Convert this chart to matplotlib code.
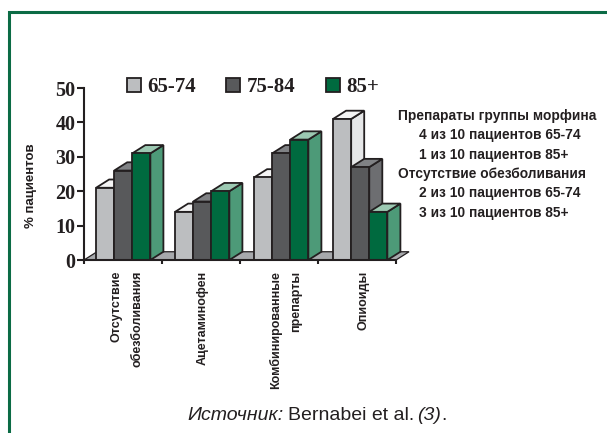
import matplotlib
matplotlib.use("Agg")
import matplotlib.pyplot as plt
from matplotlib.patches import Polygon, Rectangle

W, H = 607, 433

categories = ["Отсутствие\nобезболивания", "Ацетаминофен", "Комбинированные\nпрепарты", "Опиоиды"]
age_groups = ["65-74", "75-84", "85+"]
vals_65 = [21, 14, 24, 41]
vals_75 = [26, 17, 31, 27]
vals_85 = [31, 20, 35, 14]
y_ticks = [0, 10, 20, 30, 40, 50]

note_lines = ["Препараты группы морфина", "4 из 10 пациентов 65-74", "1 из 10 пациентов 85+",
	"Отсутствие обезболивания", "2 из 10 пациентов 65-74", "3 из 10 пациентов 85+"]
note_indent = [0, 1, 1, 0, 1, 1]

green = "#0b6b45"
front = ["#bcbec0", "#58595b", "#006a3f"]
side = ["#e6e7e8", "#6d6e71", "#4d9a78"]
top = ["#f4f4f4", "#808285", "#9cc9b2"]
edge = "#231f20"
sans = ["Liberation Sans", "DejaVu Sans"]

fig = plt.figure(figsize=(W/100, H/100), dpi=100, facecolor="white")

# page layer in pixels, for the frame and legend
bg = fig.add_axes([0, 0, 1, 1])
bg.set_xlim(0, W)
bg.set_ylim(H, 0)
bg.axis("off")
bg.plot([W, 8.5, 8.5], [11.5, 11.5, H], color=green, lw=2.2, solid_joinstyle="miter")

ax = fig.add_axes([84/W, 1-260/H, 312/W, 172/H])
ax.set_xlim(0, 4)
ax.set_ylim(0, 50)
ax.patch.set_alpha(0)

bar_w = 0.232
start = 0.155
group_step = 1.0128
dx = 0.167
dy = 2.4
lw = 1.3

# floor
ax.add_patch(Polygon([[0, 0], [dx, dy], [4+dx, dy], [4, 0]], closed=True, fc="#a7a9ac", ec=edge, lw=0.9, clip_on=False, zorder=1))

series = [vals_65, vals_75, vals_85]
for g in range(len(categories)):
	for s in range(3):
		x = g*group_step + start + s*bar_w
		v = series[s][g]
		z = 3 + g*4 + s
		ax.add_patch(Polygon([[x+bar_w, 0], [x+bar_w+dx, dy], [x+bar_w+dx, v+dy], [x+bar_w, v]], closed=True,
			fc=side[s], ec=edge, lw=lw, zorder=z, clip_on=False))
		ax.add_patch(Polygon([[x, v], [x+dx, v+dy], [x+bar_w+dx, v+dy], [x+bar_w, v]], closed=True,
			fc=top[s], ec=edge, lw=lw, zorder=z, clip_on=False))
		ax.bar(x, v, bar_w, align="edge", color=front[s], edgecolor=edge, linewidth=lw, zorder=z+0.5, clip_on=False)

for sp in ["top", "right"]:
	ax.spines[sp].set_visible(False)
for sp in ["left", "bottom"]:
	ax.spines[sp].set_linewidth(1.5)
	ax.spines[sp].set_color(edge)
	ax.spines[sp].set_zorder(30)

ax.set_yticks(y_ticks)
ax.set_yticklabels([str(t) for t in y_ticks], family="Liberation Serif", weight="bold", fontsize=14.5, color=edge)
ax.set_xticks(range(5))
ax.set_xticklabels([])
ax.tick_params(axis="y", length=5, width=1.5, color=edge, pad=1)
ax.tick_params(axis="x", length=3, width=1.5, color=edge)

bg.text(31, 186, "% пациентов", rotation=90, family=sans, weight="bold", fontsize=9.5, color=edge, ha="center", va="center")

label_x = [127, 203, 286, 364]
for g, lab in enumerate(categories):
	bg.text(label_x[g], 271, lab, rotation=90, ha="center", va="top", multialignment="right", family=sans, weight="bold",
		fontsize=9, color=edge, linespacing=1.9)

# legend
legend_x = [127, 226, 326]
for i, lab in enumerate(age_groups):
	bg.add_patch(Rectangle((legend_x[i], 78), 14, 14, fc=front[i], ec=edge, lw=1.3))
	bg.text(legend_x[i]+20.5, 85, lab, family="Liberation Serif", weight="bold", fontsize=15, color=edge, ha="left", va="center_baseline")

# side note
for i, line in enumerate(note_lines):
	bg.text(398+21*note_indent[i], 116+i*19.3, line, family=sans, weight="bold", fontsize=9.9, color=edge, ha="left", va="center")

# source line, mixed styles
bg.text(187, 415, "Источник:", style="italic", family="Liberation Sans", fontsize=14, color=edge, va="center")
bg.text(288, 415, "Bernabei et al.", family="Liberation Sans", fontsize=14, color=edge, va="center")
bg.text(417, 415, "(3)", style="italic", family="Liberation Sans", fontsize=14, color=edge, va="center")
bg.text(441, 415, ".", family="Liberation Sans", fontsize=14, color=edge, va="center")

fig.savefig("out.png", dpi=100)
